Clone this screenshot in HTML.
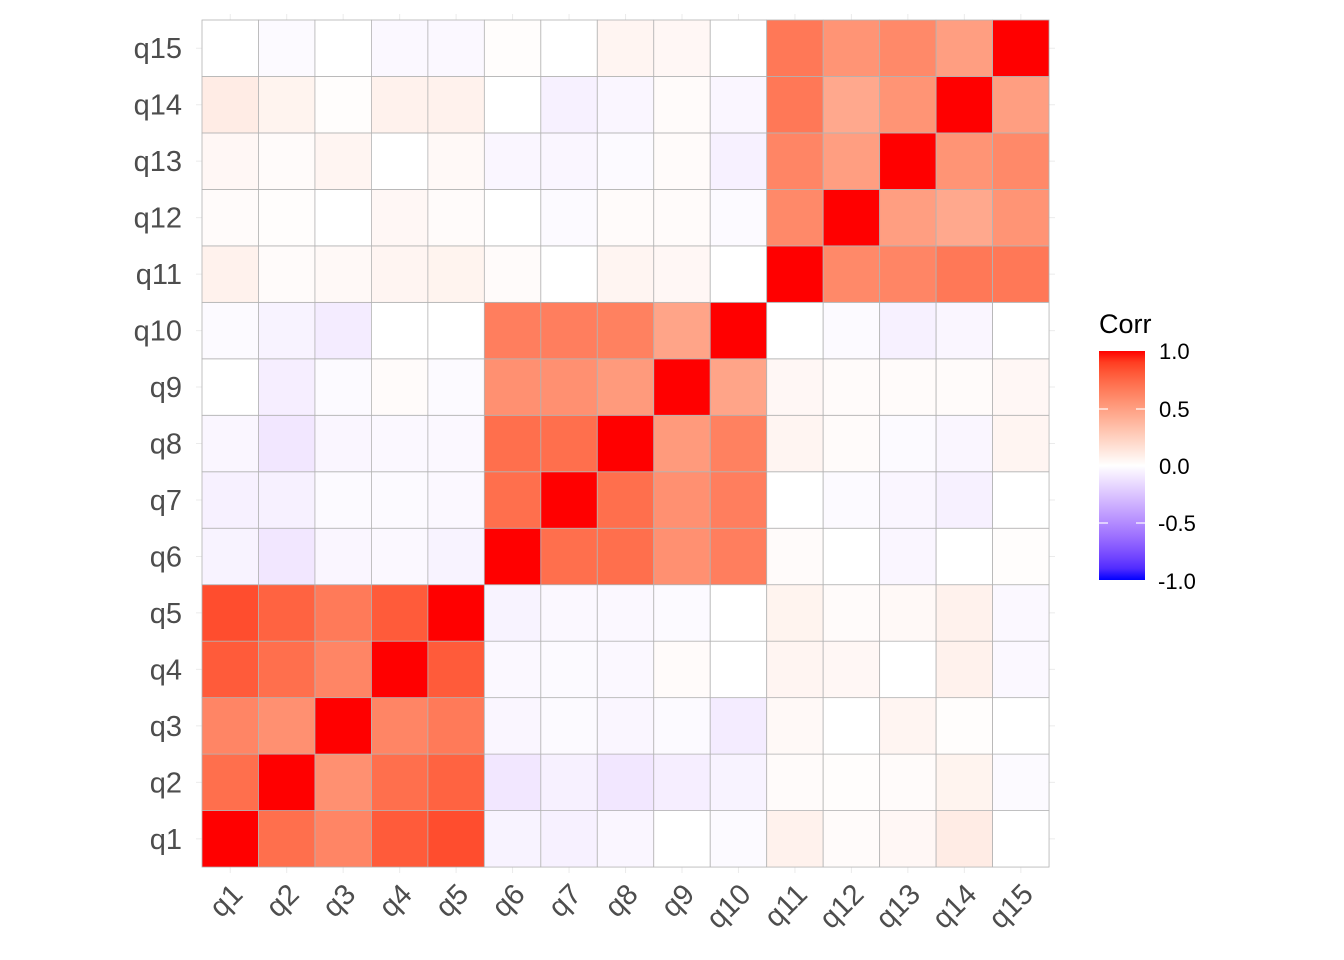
<!DOCTYPE html>
<html><head><meta charset="utf-8"><style>body{margin:0;background:#fff}svg{display:block}</style></head>
<body>
<svg id="s" width="1344" height="960" xmlns="http://www.w3.org/2000/svg" font-family="Liberation Sans, Arial, sans-serif">
</svg>
<script>
function lab2rgb(L,a,b){var y=(L+16)/116,x=a/500+y,z=y-b/200;
function f(t){return t*t*t>0.008856?t*t*t:(t-16/116)/7.787;}
x=0.95047*f(x);y=1*f(y);z=1.08883*f(z);
var r=x*3.2406+y*-1.5372+z*-0.4986,g=x*-0.9689+y*1.8758+z*0.0415,bb=x*0.0557+y*-0.2040+z*1.0570;
function c(v){v=v>0.0031308?1.055*Math.pow(v,1/2.4)-0.055:12.92*v;return Math.round(Math.max(0,Math.min(1,v))*255);}
return 'rgb('+c(r)+','+c(g)+','+c(bb)+')';}
function col(v){var W=[100,0,0],E=v>=0?[53.24,80.09,67.2]:[32.3,79.19,-107.86],t=Math.abs(v);
return lab2rgb(W[0]+(E[0]-W[0])*t,W[1]+(E[1]-W[1])*t,W[2]+(E[2]-W[2])*t);}
var N=15,M=[];for(var i=0;i<N;i++){M.push([]);for(var j=0;j<N;j++)M[i].push(i==j?1:0);}
function S(i,j,v){M[i-1][j-1]=v;M[j-1][i-1]=v;}
var b1=[[1,2,.72],[1,3,.62],[1,4,.8],[1,5,.85],[2,3,.57],[2,4,.72],[2,5,.77],[3,4,.62],[3,5,.67],[4,5,.8],
[6,7,.72],[6,8,.72],[6,9,.57],[6,10,.65],[7,8,.72],[7,9,.57],[7,10,.65],[8,9,.52],[8,10,.64],[9,10,.47],
[11,12,.6],[11,13,.62],[11,14,.68],[11,15,.68],[12,13,.5],[12,14,.45],[12,15,.55],[13,14,.55],[13,15,.6],[14,15,.5]];
b1.forEach(function(e){S(e[0],e[1],e[2]);});
var off={15:[0,-.02,0,-.03,-.03,.01,0,.05,.04,0],14:[.1,.06,.01,.07,.07,0,-.06,-.04,.02,-.04],
13:[.04,.02,.05,0,.03,-.04,-.04,-.02,.02,-.06],12:[.02,.01,0,.04,.02,0,-.02,.02,.02,-.02],
11:[.07,.02,.03,.05,.06,.02,0,.05,.04,0],10:[-.02,-.05,-.08,0,0],9:[0,-.07,-.02,.02,-.02],
8:[-.04,-.1,-.04,-.03,-.03],7:[-.06,-.06,-.02,-.02,-.03],6:[-.05,-.1,-.04,-.03,-.05]};
for(var k in off)off[k].forEach(function(v,j){S(+k,j+1,v);});
var s=document.getElementById('s'),h='';
var x0=202,y0=20,c=56.47;
for(var t=0;t<N;t++){var cx=x0+c*(t+.5);h+='<line x1="'+cx+'" y1="14" x2="'+cx+'" y2="873" stroke="#ebebeb"/>';
var cy=y0+c*(t+.5);h+='<line x1="196" y1="'+cy+'" x2="1055" y2="'+cy+'" stroke="#ebebeb"/>';}
for(var i=0;i<N;i++)for(var j=0;j<N;j++){var x=x0+c*j,y=y0+c*(N-1-i);
h+='<rect x="'+x+'" y="'+y+'" width="'+c+'" height="'+c+'" fill="'+col(M[i][j])+'" stroke="#b3b3b3" stroke-width="0.8"/>';}
for(var i=0;i<N;i++){var y=y0+c*(N-1-i)+c/2;
h+='<text x="182" y="'+(y+10)+'" text-anchor="end" font-size="29" fill="#4d4d4d">q'+(i+1)+'</text>';
var cx=x0+c*(i+.5);
h+='<text transform="translate('+(cx+14)+',896) rotate(-45)" text-anchor="end" font-size="29" fill="#4d4d4d">q'+(i+1)+'</text>';}
var st='';for(var k=0;k<=20;k++){var v=1-k/10;st+='<stop offset="'+(k/20)+'" stop-color="'+col(v)+'"/>';}
h+='<linearGradient id="gg" x1="0" y1="0" x2="0" y2="1">'+st+'</linearGradient>';
h+='<rect x="1099" y="351" width="46" height="229" fill="url(#gg)"/>';
[[409],[466],[523]].forEach(function(p){h+='<line x1="1099" x2="1108" y1="'+p[0]+'" y2="'+p[0]+'" stroke="#fff" stroke-width="1.2"/><line x1="1136" x2="1145" y1="'+p[0]+'" y2="'+p[0]+'" stroke="#fff" stroke-width="1.2"/>';});
h+='<text x="1099" y="333" font-size="27" fill="#000">Corr</text>';
[['1.0',351],['0.5',409],['0.0',466],['-0.5',523],['-1.0',581]].forEach(function(p){h+='<text x="'+(p[0][0]=='-'?1158:1159)+'" y="'+(p[1]+8)+'" font-size="22" fill="#000">'+p[0]+'</text>';});
s.innerHTML=h;
</script>
</body></html>
